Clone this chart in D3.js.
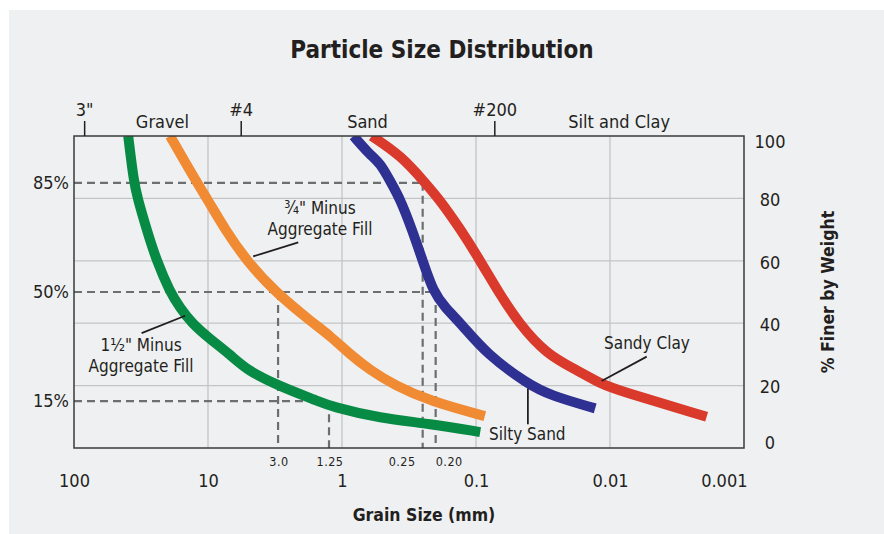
<!DOCTYPE html>
<html>
<head>
<meta charset="utf-8">
<script src="https://cdn.jsdelivr.net/npm/d3@7"></script>
<style>
  body { margin: 0; background: #ffffff; }
  text { font-family: "DejaVu Sans Condensed", "DejaVu Sans", sans-serif; font-stretch: condensed; fill: #231f20; }
</style>
</head>
<body>
<script>
// grain size (mm) and % finer for each curve
var fineAggSize = [39.4, 35.7, 33.5, 28.7, 24.2, 19.2, 16.2, 13.2, 9.7, 6.85, 5.15, 3.0, 1.5, 1.2, 0.52, 0.22, 0.093],
    fineAggPct  = [100, 85, 80, 70, 60, 50, 45, 40, 35, 30, 25, 20, 15, 13.3, 9.5, 7.8, 5.1];
var coarseAggSize = [19.2, 12.1, 10.2, 7.46, 5.15, 3.16, 1.64, 1.23, 0.87, 0.62, 0.40, 0.22, 0.086],
    coarseAggPct  = [100, 85, 80, 70, 60, 50, 40, 36, 30, 25, 20, 15, 10.2];
var siltySandSize = [0.82, 0.62, 0.52, 0.43, 0.37, 0.30, 0.25, 0.208, 0.17, 0.13, 0.083, 0.041, 0.028, 0.0129],
    siltySandPct  = [100, 94, 91.4, 85, 80, 70, 60, 50, 45, 40, 30, 20.5, 16.9, 12.7];
var sandyClaySize = [0.60, 0.36, 0.24, 0.19, 0.13, 0.093, 0.068, 0.048, 0.0297, 0.0177, 0.0119, 0.0084, 0.0019],
    sandyClayPct  = [100, 93.6, 85, 80, 70, 60, 50, 40, 30, 25, 20.7, 18.3, 10];

var xTicks = [100, 10, 1, 0.1, 0.01, 0.001],
    xTickLabels = ["100", "10", "1", "0.1", "0.01", "0.001"];
var yTicks = [0, 20, 40, 60, 80, 100];
var pctMarks = [15, 50, 85];

// sieve marks on top axis (position in mm) and soil classes between them
var sieveSizes = [84, 5.7, 0.073],
    sieveLabels = ['3"', "#4", "#200"];
var classLabels = ["Gravel", "Sand", "Silt and Clay"],
    classBounds = [84, 5.7, 0.073, 0.001];

// read-off sizes (dashed guides)
var guideSizes = [0.25, 0.20, 3.0, 1.25],
    guidePcts = [85, 50, 50, 15],
    guideLabels = ["0.25", "0.20", "3.0", "1.25"];

var colors = { fine: "#078a44", coarse: "#f08a33", silty: "#2e3092", clay: "#d93a2b" };

var w = 884,
    h = 534;

var margin = { top: 136, right: 140, bottom: 86, left: 74 },
    width = w - margin.left - margin.right,
    height = h - margin.top - margin.bottom;

var root = d3.select("body")
    .append("svg")
    .attr("width", w)
    .attr("height", h);

root.append("rect")
    .attr("x", 9).attr("y", 10)
    .attr("width", w - 9).attr("height", h - 10)
    .attr("fill", "#eff0f2");

root.append("text")
    .attr("x", 442).attr("y", 58)
    .attr("text-anchor", "middle")
    .attr("font-size", 24)
    .attr("font-weight", "bold")
    .text("Particle Size Distribution");

var svg = root.append("g")
    .attr("transform", "translate(" + margin.left + "," + margin.top + ")");

var x = d3.scaleLog().domain([100, 0.001]).range([0, width]);
var y = d3.scaleLinear().domain([0, 100]).range([height, 0]);

// grid
svg.append("g")
    .selectAll("line")
    .data(xTicks.slice(1, -1))
    .enter()
    .append("line")
    .attr("x1", d => x(d)).attr("x2", d => x(d))
    .attr("y1", 0).attr("y2", height)
    .attr("stroke", "#c3c4c6").attr("stroke-width", 1.3);

svg.append("g")
    .selectAll("line")
    .data(yTicks.slice(1, -1))
    .enter()
    .append("line")
    .attr("x1", 0).attr("x2", width)
    .attr("y1", d => y(d)).attr("y2", d => y(d))
    .attr("stroke", "#c3c4c6").attr("stroke-width", 1.3);

// dashed guides
var dash = svg.append("g")
    .attr("stroke", "#6d6e70")
    .attr("stroke-width", 2.2)
    .attr("stroke-dasharray", "8,5")
    .attr("fill", "none");

guideSizes.forEach(function (s, i) {
    var p = guidePcts[i];
    if (i != 2) {
        dash.append("line")
            .attr("x1", 0).attr("x2", x(s))
            .attr("y1", y(p)).attr("y2", y(p));
    }
    dash.append("line")
        .attr("x1", x(s)).attr("x2", x(s))
        .attr("y1", y(p)).attr("y2", height);
});

// curves
svg.append("clipPath").attr("id", "plot")
    .append("rect").attr("width", width).attr("height", height);

var line = d3.line()
    .x(d => x(d[0]))
    .y(d => y(d[1]))
    .curve(d3.curveBasis);

var series = [
    { size: fineAggSize, pct: fineAggPct, color: colors.fine },
    { size: coarseAggSize, pct: coarseAggPct, color: colors.coarse },
    { size: siltySandSize, pct: siltySandPct, color: colors.silty },
    { size: sandyClaySize, pct: sandyClayPct, color: colors.clay }
];

svg.append("g")
    .attr("clip-path", "url(#plot)")
    .selectAll("path")
    .data(series)
    .enter()
    .append("path")
    .attr("d", d => line(d.size.map((s, i) => [s, d.pct[i]])))
    .attr("fill", "none")
    .attr("stroke", d => d.color)
    .attr("stroke-width", 10)
    .attr("stroke-linejoin", "round");

// frame
svg.append("rect")
    .attr("width", width).attr("height", height)
    .attr("fill", "none")
    .attr("stroke", "#3a3a3a")
    .attr("stroke-width", 1.5);

// axes
var xAxis = svg.append("g")
    .attr("transform", "translate(0," + height + ")")
    .call(d3.axisBottom(x).tickValues(xTicks).tickSize(0).tickPadding(26)
        .tickFormat((d, i) => xTickLabels[i]));
xAxis.select(".domain").remove();
xAxis.selectAll("text")
    .attr("font-size", 18)
    .attr("font-family", null)
    .filter(d => d == 0.001)
    .attr("text-anchor", "end")
    .attr("x", 3);

var yAxis = svg.append("g")
    .attr("transform", "translate(" + width + ",0)")
    .call(d3.axisRight(y).tickValues(yTicks).tickSize(0));
yAxis.select(".domain").remove();
yAxis.selectAll("text")
    .attr("font-size", 18)
    .attr("font-family", null)
    .attr("text-anchor", "middle")
    .attr("x", 26)
    .attr("dy", d => d == 100 ? "0.62em" : d == 0 ? "0.05em" : "0.4em");

var pctAxis = svg.append("g")
    .call(d3.axisLeft(y).tickValues(pctMarks).tickSize(0).tickPadding(5)
        .tickFormat(d => d + "%"));
pctAxis.select(".domain").remove();
pctAxis.selectAll("text")
    .attr("font-size", 18)
    .attr("font-family", null);

var sieveAxis = svg.append("g")
    .call(d3.axisTop(x).tickValues(sieveSizes).tickSize(15).tickPadding(5)
        .tickFormat((d, i) => sieveLabels[i]));
sieveAxis.select(".domain").remove();
sieveAxis.selectAll("line").attr("stroke", "#231f20").attr("stroke-width", 1.5);
sieveAxis.selectAll("text")
    .attr("font-size", 18)
    .attr("font-family", null);

svg.append("g")
    .selectAll("text")
    .data(classLabels)
    .enter()
    .append("text")
    .attr("x", (d, i) => (x(classBounds[i]) + x(classBounds[i + 1])) / 2)
    .attr("y", -8)
    .attr("text-anchor", "middle")
    .attr("font-size", 18)
    .text(d => d);

// read-off size labels
svg.append("g")
    .selectAll("text")
    .data(guideSizes)
    .enter()
    .append("text")
    .attr("x", (d, i) => x(d) + (i == 0 ? -7 : i == 1 ? 0 : 1))
    .attr("y", height + 18)
    .attr("text-anchor", (d, i) => i == 0 ? "end" : i == 1 ? "start" : "middle")
    .attr("font-size", 12.5)
    .attr("letter-spacing", 0.5)
    .text((d, i) => guideLabels[i]);

// axis titles
svg.append("text")
    .attr("x", 350).attr("y", height + 73)
    .attr("text-anchor", "middle")
    .attr("font-size", 17.5)
    .attr("font-weight", "bold")
    .text("Grain Size (mm)");

svg.append("text")
    .attr("transform", "translate(" + (width + 90) + "," + (height / 2) + ") rotate(-90)")
    .attr("text-anchor", "middle")
    .attr("font-size", 17.5)
    .attr("font-weight", "bold")
    .text("% Finer by Weight");

// curve annotations: leader from/to (mm, %), text lines at (mm, %)
var notes = [
    { from: [14.8, 42.4], to: [31.3, 36.8], at: [31.6, 31.2], lines: ['1½" Minus', "Aggregate Fill"], anchor: "middle" },
    { from: [4.6, 61.4], to: [2.12, 65.9], at: [1.46, 75.1], lines: ['¾" Minus', "Aggregate Fill"], anchor: "middle" },
    { from: [0.041, 19.1], to: [0.041, 7.6], at: [0.080, 2.7], lines: ["Silty Sand"], anchor: "start" },
    { from: [0.01155, 21.5], to: [0.00532, 29.3], at: [0.0053, 31.6], lines: ["Sandy Clay"], anchor: "middle" }
];

var note = svg.append("g")
    .selectAll("g")
    .data(notes)
    .enter()
    .append("g");

note.append("line")
    .attr("x1", d => x(d.from[0])).attr("y1", d => y(d.from[1]))
    .attr("x2", d => x(d.to[0])).attr("y2", d => y(d.to[1]))
    .attr("stroke", "#231f20").attr("stroke-width", 1.8);

note.append("text")
    .attr("text-anchor", d => d.anchor)
    .attr("font-size", 17)
    .selectAll("tspan")
    .data(d => d.lines.map(t => ({ t: t, d: d })))
    .enter()
    .append("tspan")
    .attr("x", o => x(o.d.at[0]))
    .attr("y", (o, i) => y(o.d.at[1]) + i * 21)
    .text(o => o.t);
</script>
</body>
</html>
